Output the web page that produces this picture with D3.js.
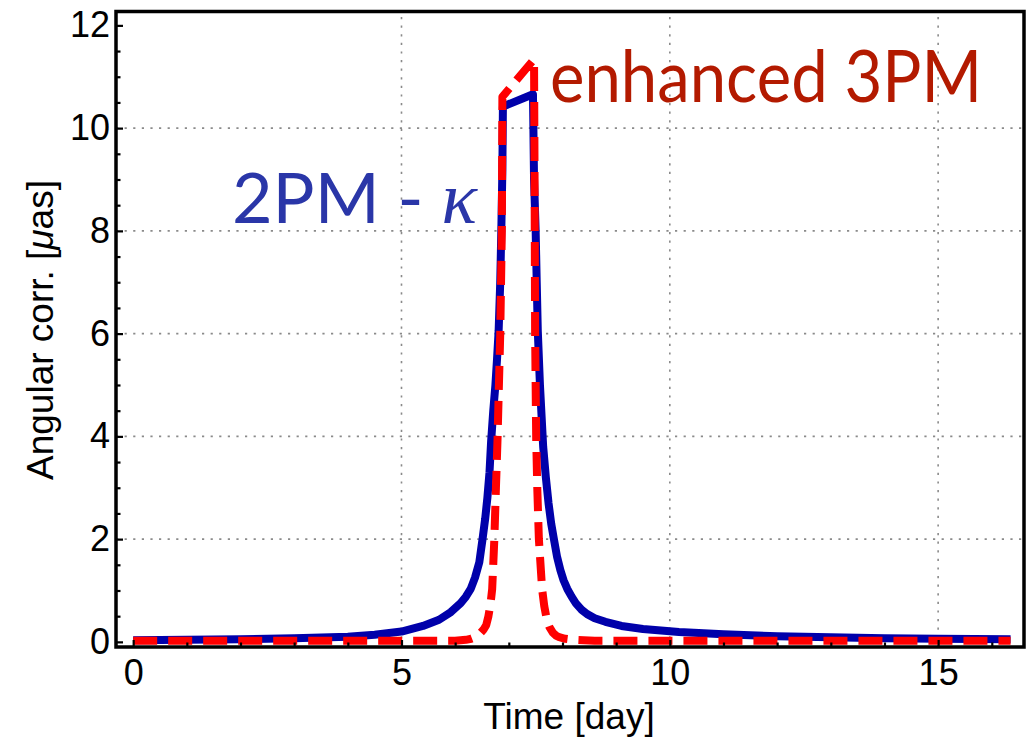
<!DOCTYPE html>
<html><head><meta charset="utf-8">
<script src="https://cdn.jsdelivr.net/npm/d3@7"></script>
<style>body{margin:0;background:#fff}svg{display:block}</style>
</head><body>
<script>
// ---- data ----
const blueDays = [0,1,2,3,4,4.5,5.0,5.4,5.7,5.92,6.1,6.2,6.29,6.37,6.45,6.51,6.56,6.6,6.64,6.67,6.71,6.75,6.78,6.81,6.84,6.86,6.88,6.89,7.45,7.47,7.50,7.52,7.54,7.58,7.64,7.69,7.74,7.79,7.84,7.9,7.96,8.02,8.09,8.17,8.25,8.35,8.46,8.6,8.8,9.1,9.5,10.17,11,12,13,14,15,16.35];
const blueVals = [0.03,0.04,0.05,0.07,0.10,0.14,0.2,0.31,0.43,0.58,0.75,0.88,1.03,1.25,1.55,2.0,2.4,2.8,3.3,3.9,4.5,5.0,5.5,6.05,7.0,8.0,9.2,10.42,10.66,9.0,8.0,7.0,6.05,5.0,3.8,3.2,2.7,2.3,2.0,1.65,1.4,1.2,1.03,0.88,0.75,0.63,0.54,0.46,0.39,0.31,0.25,0.19,0.15,0.11,0.09,0.07,0.06,0.05];
const redDays = [0,6.0,6.2,6.3,6.4,6.47,6.53,6.58,6.62,6.66,6.69,6.73,6.76,6.79,6.84,6.87,6.88,7.47,7.48,7.49,7.51,7.53,7.56,7.62,7.66,7.71,7.76,7.82,7.88,7.94,8.05,8.2,8.6,16.35];
const redVals = [0.02,0.02,0.04,0.06,0.1,0.17,0.24,0.33,0.5,0.75,1.03,2.0,3.0,3.96,6.0,8.0,10.61,11.34,9.0,6.0,3.96,3.0,2.0,1.03,0.7,0.42,0.28,0.18,0.12,0.09,0.06,0.04,0.02,0.02];
const xTicks = [0,5,10,15];
const yTicks = [0,2,4,6,8,10,12];
const xMinor = [0,1,2,3,4,5,6,7,8,9,10,11,12,13,14,15,16];
const yMinor = [0,0.5,1,1.5,2,2.5,3,3.5,4,4.5,5,5.5,6,6.5,7,7.5,8,8.5,9,9.5,10,10.5,11,11.5,12];
const xTitle = "Time [day]";
const yTitleA = "Angular corr. [";
const yTitleMu = "\u03bc";
const yTitleB = "as]";
const label2PM = "2PM - ";
const labelKappa = "\u03ba";
const label3PM = "enhanced 3PM";

const W = 1034, H = 738;
const svg = d3.select("body").append("svg").attr("width", W).attr("height", H);
svg.append("rect").attr("width", W).attr("height", H).attr("fill", "#fff");

const x = d3.scaleLinear().domain([-0.32, 16.6]).range([116, 1024]);
const y = d3.scaleLinear().domain([-0.1, 12.27]).range([647, 11.5]);
const font = "'Liberation Sans', Arial, Helvetica, sans-serif";

// grid
const grid = svg.append("g").attr("stroke", "#8a8a8a").attr("stroke-width", 1.6).attr("stroke-dasharray", "2.2,6.4");
grid.selectAll("line.gx").data(xTicks.filter(d => d > 0)).join("line")
  .attr("x1", d => x(d)).attr("x2", d => x(d)).attr("y1", y.range()[0]).attr("y2", y.range()[1]);
grid.selectAll("line.gy").data(yTicks.filter(d => d > 0 && d < 12)).join("line")
  .attr("y1", d => y(d)).attr("y2", d => y(d)).attr("x1", x.range()[0]).attr("x2", x.range()[1]);

// clip
svg.append("clipPath").attr("id", "clip").append("rect")
  .attr("x", x.range()[0]).attr("y", y.range()[1]).attr("width", x.range()[1] - x.range()[0]).attr("height", y.range()[0] - y.range()[1]);

const line = d3.line().x(d => x(d[0])).y(d => y(d[1])).curve(d3.curveLinear);
const plot = svg.append("g").attr("clip-path", "url(#clip)");
plot.append("path").datum(blueDays.map((d, i) => [d, blueVals[i]]))
  .attr("d", line).attr("fill", "none").attr("stroke", "#0000aa").attr("stroke-width", 8).attr("stroke-linejoin", "round");
plot.append("path").datum(redDays.map((d, i) => [d, redVals[i]]))
  .attr("d", line).attr("fill", "none").attr("stroke", "#ff0000").attr("stroke-width", 8)
  .attr("stroke-dasharray", "24,11").attr("stroke-linejoin", "round");

// axes (ticks inward)
const gx = svg.append("g").attr("transform", `translate(0,${y.range()[0]})`)
  .call(d3.axisBottom(x).tickValues(xTicks).tickSizeInner(-7).tickSizeOuter(0).tickPadding(12));
const gxm = svg.append("g").attr("transform", `translate(0,${y.range()[0]})`)
  .call(d3.axisBottom(x).tickValues(xMinor.filter(d => !xTicks.includes(d))).tickSizeInner(-4.5).tickSizeOuter(0).tickFormat(""));
const gy = svg.append("g").attr("transform", `translate(${x.range()[0]},0)`)
  .call(d3.axisLeft(y).tickValues(yTicks).tickSizeInner(-7).tickSizeOuter(0).tickPadding(6));
const gym = svg.append("g").attr("transform", `translate(${x.range()[0]},0)`)
  .call(d3.axisLeft(y).tickValues(yMinor.filter(d => !yTicks.includes(d))).tickSizeInner(-4.5).tickSizeOuter(0).tickFormat(""));
[gx, gxm, gy, gym].forEach(g => {
  g.select(".domain").remove();
  g.selectAll(".tick line").attr("stroke", "#000").attr("stroke-width", 2.2);
  g.selectAll("text").attr("font-family", font).attr("font-size", 36).attr("fill", "#000");
});

// frame
svg.append("rect").attr("x", x.range()[0]).attr("y", y.range()[1])
  .attr("width", x.range()[1] - x.range()[0]).attr("height", y.range()[0] - y.range()[1])
  .attr("fill", "none").attr("stroke", "#000").attr("stroke-width", 3.5);

// titles
svg.append("text").attr("x", 569).attr("y", 729).attr("text-anchor", "middle")
  .attr("font-family", font).attr("font-size", 37).attr("fill", "#000").text(xTitle);
const yt = svg.append("text").attr("transform", "translate(53,330) rotate(-90)").attr("text-anchor", "middle")
  .attr("font-family", font).attr("font-size", 37).attr("fill", "#000");
yt.append("tspan").text(yTitleA);
yt.append("tspan").attr("font-style", "italic").text(yTitleMu);
yt.append("tspan").text(yTitleB);

// annotations
const annFont = "Lato, 'Open Sans', sans-serif";
const t2 = svg.append("text").attr("x", 232).attr("y", 223)
  .attr("font-family", annFont).attr("font-size", 70).attr("fill", "#2a36a8");
t2.append("tspan").text(label2PM);
t2.append("tspan").attr("font-style", "italic").attr("font-family", "'Liberation Serif', serif").attr("font-size", 74).text(labelKappa);
svg.append("text").attr("x", 550).attr("y", 102)
  .attr("font-family", annFont).attr("font-size", 72).attr("fill", "#b31a00")
  .attr("textLength", 432).attr("lengthAdjust", "spacingAndGlyphs").text(label3PM);
</script>
</body></html>
